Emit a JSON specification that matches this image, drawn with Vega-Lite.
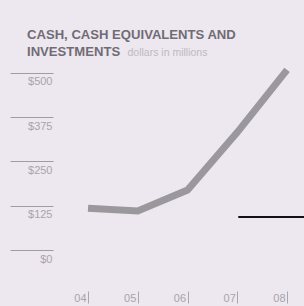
{
  "$schema": "https://vega.github.io/schema/vega-lite/v6.json",
  "autosize": "none",
  "width": 251,
  "height": 190,
  "padding": {"left": 53, "top": 60, "right": 0, "bottom": 56},
  "background": "#ede7ef",
  "config": {
    "view": {"stroke": null},
    "font": "Liberation Sans"
  },
  "title": {
    "text": ["CASH, CASH EQUIVALENTS AND", "INVESTMENTS"],
    "anchor": "start",
    "frame": "group",
    "dx": -26,
    "offset": -12,
    "fontSize": 13.1,
    "fontWeight": "bold",
    "color": "#706c75",
    "lineHeight": 17
  },
  "datasets": {
    "cash": [
      {"year": 4, "label": "04", "value": 118},
      {"year": 5, "label": "05", "value": 110},
      {"year": 6, "label": "06", "value": 169},
      {"year": 7, "label": "07", "value": 332},
      {"year": 8, "label": "08", "value": 508}
    ],
    "marker": [
      {"start": 7.02, "end": 8.4, "value": 93}
    ]
  },
  "layer": [
    {
      "data": {"name": "cash"},
      "mark": {"type": "line", "color": "#9a989c", "strokeWidth": 7, "strokeCap": "butt", "strokeJoin": "miter"},
      "encoding": {
        "x": {
          "field": "year",
          "type": "quantitative",
          "scale": {"domain": [3.296, 8.341], "nice": false, "zero": false},
          "axis": {
            "values": [4, 5, 6, 7, 8],
            "labelExpr": "'0' + datum.value",
            "title": null,
            "domain": false,
            "grid": false,
            "offset": 41,
            "tickSize": 12,
            "tickColor": "#aaa6ad",
            "tickWidth": 1,
            "labelAlign": "right",
            "labelBaseline": "middle",
            "labelPadding": -5,
            "labelOffset": -2,
            "labelFontSize": 11,
            "labelColor": "#a8a4ab",
            "labelFont": "Liberation Sans"
          }
        },
        "y": {
          "field": "value",
          "type": "quantitative",
          "scale": {"domain": [0, 536], "nice": false},
          "axis": {
            "values": [0, 125, 250, 375, 500],
            "format": "$d",
            "title": "dollars in millions",
            "titleAngle": 0,
            "titleAlign": "left",
            "titleBaseline": "alphabetic",
            "titleX": 74,
            "titleY": -5,
            "titleFontSize": 10.5,
            "titleFontWeight": "normal",
            "titleColor": "#bdb9c0",
            "domain": false,
            "grid": false,
            "tickSize": 43,
            "tickColor": "#a09ca3",
            "tickWidth": 1,
            "labelAlign": "right",
            "labelBaseline": "top",
            "labelPadding": -42,
            "labelOffset": 3,
            "labelFontSize": 11,
            "labelColor": "#a8a4ab"
          }
        }
      }
    },
    {
      "data": {"name": "marker"},
      "mark": {"type": "rule", "color": "#111111", "strokeWidth": 2, "clip": false},
      "encoding": {
        "x": {"field": "start", "type": "quantitative"},
        "x2": {"field": "end"},
        "y": {"field": "value", "type": "quantitative"}
      }
    }
  ]
}
